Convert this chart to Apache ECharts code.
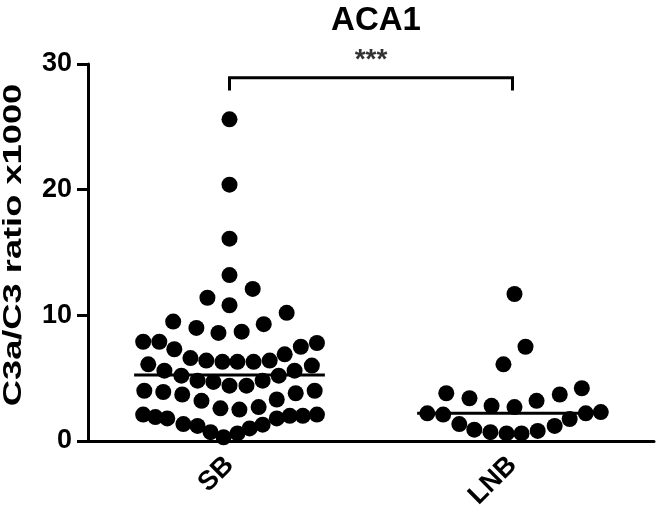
<!DOCTYPE html>
<html>
<head>
<meta charset="utf-8">
<script src="https://cdn.jsdelivr.net/npm/echarts@6/dist/echarts.min.js"></script>
<style>html,body{margin:0;padding:0;background:#fff;}#c{width:657px;height:524px;}</style>
</head>
<body>
<div id="c"></div>
<script>
var categories = ['SB', 'LNB'];
var yTicks = [0, 10, 20, 30];
var yTitle = 'C3a/C3 ratio x1000';
var chartTitle = 'ACA1';
// SB: C3a/C3 ratio values and horizontal swarm offsets (fraction of category spacing)
var sbValues = [25.6,20.4,16.1,13.2,12.1,11.4,10.8,10.2,9.5,9.3,9.0,8.7,8.6,7.9,7.9,7.8,7.5,7.3,6.9,6.6,6.4,6.3,6.3,6.3,6.4,6.1,6.0,5.6,5.6,5.2,5.2,4.8,4.8,4.7,4.4,4.4,4.0,3.9,3.7,3.2,2.6,2.5,2.7,3.3,3.8,4.0,2.1,1.9,1.8,1.35,1.2,0.7,0.3,0.6,1.0,1.3,1.8,2.0,2.0,2.1];
var sbOffsets = [0,0,0,0,0.082,-0.078,0,0.202,-0.199,0.121,-0.117,0.043,-0.039,-0.305,-0.248,0.309,0.252,-0.195,0.195,-0.138,-0.082,-0.025,0.028,0.085,0.142,-0.287,0.291,-0.230,0.230,-0.170,0.174,-0.113,0.117,-0.057,0,0.060,-0.301,-0.234,-0.167,-0.099,-0.032,0.035,0.103,0.167,0.234,0.301,-0.305,-0.262,-0.220,-0.163,-0.113,-0.067,-0.021,0.028,0.071,0.117,0.167,0.213,0.259,0.309];
var lnbValues = [11.7,7.5,6.1,3.8,3.4,2.8,2.7,3.2,3.7,4.2,2.2,2.1,2.2,2.3,1.75,1.35,0.9,0.7,0.6,0.6,0.8,1.2];
var lnbOffsets = [0.007,0.046,-0.032,-0.234,-0.152,-0.074,0.007,0.085,0.167,0.245,-0.301,-0.245,0.259,0.312,0.202,-0.188,-0.135,-0.078,-0.021,0.032,0.089,0.149];
var medians = [5.25, 2.2];
var bracketTop = 28.9, bracketFoot = 27.9, starsY = 30.3;
var sigLabel = '***';

var FONT = 'Liberation Sans, Arial, Helvetica, sans-serif';
var HALF = 0.337;

function swarm(vals, offs, idx) {
  return vals.map(function (v, i) { return [idx + offs[i], v]; });
}

var dotStyle = { color: '#000', opacity: 1 };
var series = [
  {
    type: 'scatter', xAxisIndex: 1, yAxisIndex: 0,
    data: swarm(sbValues, sbOffsets, 0),
    symbol: 'circle', symbolSize: 16,
    itemStyle: dotStyle, clip: false, silent: true
  },
  {
    type: 'scatter', xAxisIndex: 1, yAxisIndex: 0,
    data: swarm(lnbValues, lnbOffsets, 1),
    symbol: 'circle', symbolSize: 16,
    itemStyle: dotStyle, clip: false, silent: true
  }
];
medians.forEach(function (m, i) {
  series.push({
    type: 'line', xAxisIndex: 1, yAxisIndex: 0,
    data: [[i - HALF, m], [i + HALF, m]],
    symbol: 'none', lineStyle: { color: '#000', width: 3 }, silent: true, z: 3
  });
});
series.push({
  type: 'line', xAxisIndex: 1, yAxisIndex: 0,
  data: [[0, bracketFoot], [0, bracketTop], [1, bracketTop], [1, bracketFoot]],
  symbol: 'none', lineStyle: { color: '#000', width: 3, join: 'miter' }, silent: true, clip: false
});
series.push({
  type: 'scatter', xAxisIndex: 1, yAxisIndex: 0,
  data: [[0.5, starsY]], symbolSize: 0, clip: false, silent: true,
  label: { show: true, formatter: sigLabel, position: 'inside', color: '#000', fontSize: 28, fontWeight: 'bold', fontFamily: FONT }
});

var chart = echarts.init(document.getElementById('c'), null, { renderer: 'canvas' });
chart.setOption({
  animation: false,
  backgroundColor: '#fff',
  title: {
    text: chartTitle, left: 371, top: -1, textAlign: 'center',
    textStyle: { fontSize: 33, fontWeight: 'bold', color: '#000', fontFamily: FONT }
  },
  grid: { left: 88, right: 3, top: 64, bottom: 83, containLabel: false },
  xAxis: [
    {
      type: 'category', data: categories, boundaryGap: true,
      axisLine: { lineStyle: { color: '#000', width: 3 } },
      axisTick: { alignWithLabel: true, length: 9, lineStyle: { color: '#000', width: 3 } },
      axisLabel: { rotate: 45, margin: 20, fontSize: 27, fontWeight: 'bold', color: '#000', fontFamily: FONT },
      splitLine: { show: false }
    },
    {
      type: 'value', min: -0.5, max: 1.5, show: false
    }
  ],
  yAxis: {
    type: 'value', min: yTicks[0], max: yTicks[yTicks.length - 1], interval: 10,
    axisLine: { show: true, onZero: false, lineStyle: { color: '#000', width: 3 } },
    axisTick: { show: true, length: 11, lineStyle: { color: '#000', width: 3 } },
    axisLabel: { margin: 16, fontSize: 27, fontWeight: 'bold', color: '#000', fontFamily: FONT },
    splitLine: { show: false }
  },
  graphic: [{
    type: 'text', x: 14, y: 245, rotation: Math.PI / 2, scaleX: 1.45, scaleY: 1,
    style: { text: yTitle, font: 'bold 25px ' + FONT, fill: '#000', textAlign: 'center', textVerticalAlign: 'middle' },
    silent: true
  }],
  series: series
});
</script>
</body>
</html>
